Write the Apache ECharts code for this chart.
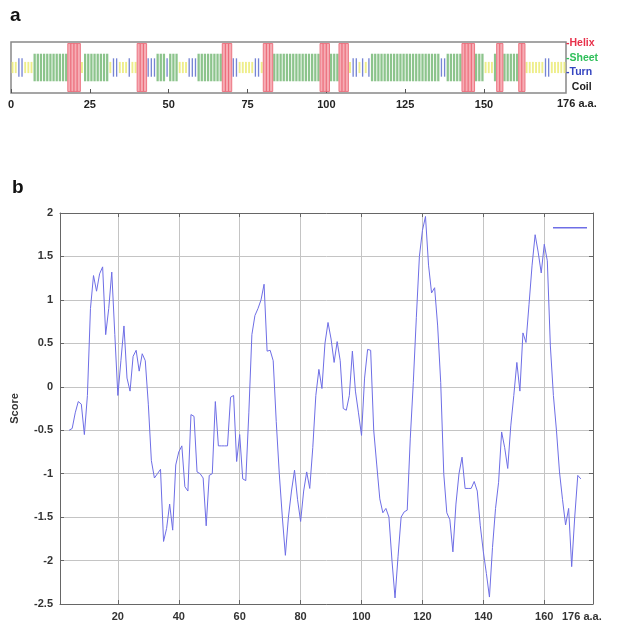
<!DOCTYPE html>
<html>
<head>
<meta charset="utf-8">
<script src="https://cdn.jsdelivr.net/npm/echarts@6/dist/echarts.min.js"></script>
<style>
  html, body { margin: 0; padding: 0; background: #fff; }
  #chart { width: 619px; height: 622px; }
</style>
</head>
<body>
<div id="chart"></div>
<script>
// secondary structure per residue, as runs of [type, length]
const ssRuns = [
  ['C', 2], ['T', 2], ['C', 3], ['E', 11], ['H', 4], ['C', 1], ['E', 8], ['C', 1],
  ['T', 2], ['C', 3], ['T', 1], ['C', 2], ['H', 3], ['T', 3], ['E', 3], ['T', 1],
  ['E', 3], ['C', 3], ['T', 3], ['E', 8], ['H', 3], ['T', 2], ['C', 5], ['T', 2],
  ['C', 1], ['H', 3], ['E', 15], ['H', 3], ['E', 3], ['H', 3], ['C', 1], ['T', 2],
  ['C', 1], ['T', 1], ['C', 1], ['T', 1], ['E', 22], ['T', 2], ['E', 5], ['H', 4],
  ['E', 3], ['C', 3], ['E', 1], ['H', 2], ['E', 5], ['H', 2], ['C', 6], ['T', 2],
  ['C', 5]
];
const ssTypes = ['H', 'E', 'T', 'C'];
const ssLegend = ['Helix', 'Sheet', 'Turn', 'Coil'];
const ssTicks = [0, 25, 50, 75, 100, 125, 150];

// score profile, first value at residue scoreStart
const scoreStart = 4;
const scoreValues = [
  -0.5, -0.48, -0.3, -0.17, -0.2, -0.55, -0.1, 0.9, 1.28, 1.1,
  1.3, 1.38, 0.6, 0.9, 1.32, 0.6, -0.1, 0.3, 0.7, 0.1,
  -0.05, 0.35, 0.42, 0.18, 0.38, 0.3, -0.2, -0.85, -1.05, -1.0,
  -0.95, -1.78, -1.63, -1.35, -1.65, -0.9, -0.75, -0.68, -1.15, -1.2,
  -0.32, -0.34, -0.98, -1.0, -1.05, -1.6, -1.02, -1.0, -0.17, -0.68,
  -0.68, -0.68, -0.68, -0.12, -0.1, -0.86, -0.55, -1.06, -1.08, -0.3,
  0.6, 0.82, 0.9, 1.0, 1.18, 0.41, 0.42, 0.3, -0.4, -1.0,
  -1.5, -1.94, -1.5, -1.2, -0.96, -1.3, -1.55, -1.2, -0.98, -1.17,
  -0.7, -0.1, 0.2, -0.02, 0.5, 0.74, 0.55, 0.28, 0.52, 0.3,
  -0.25, -0.27, -0.1, 0.41, -0.05, -0.3, -0.56, 0.1, 0.43, 0.42,
  -0.5, -0.9, -1.29, -1.45, -1.4, -1.5, -2.0, -2.43, -1.95, -1.5,
  -1.44, -1.42, -0.6, 0.05, 0.8, 1.5, 1.8, 1.96, 1.4, 1.08,
  1.14, 0.7, 0.05, -1.0, -1.45, -1.53, -1.9, -1.35, -1.0, -0.81,
  -1.17, -1.17, -1.17, -1.09, -1.2, -1.6, -1.9, -2.15, -2.42, -1.85,
  -1.4, -1.1, -0.52, -0.7, -0.94, -0.45, -0.1, 0.28, -0.05, 0.62,
  0.51, 0.95, 1.4, 1.75, 1.55, 1.31, 1.64, 1.45, 0.47, -0.1,
  -0.5, -0.98, -1.3, -1.59, -1.4, -2.07, -1.5, -1.02, -1.06
];
const scoreTicks = [20, 40, 60, 80, 100, 120, 140, 160];

// styles per structure type (H, E, T, C)
const ssHalf = [0.47, 0.27, 0.18, 0.11];
const ssWidth = [1, 0.72, 0.42, 0.6];
const ssFill = ['#f6adb5', '#8cc48c', '#7684d4', '#eeee8a'];
const ssText = ['#e8304a', '#2fbf5a', '#3545c0', '#222'];

const ssData = [];
let residue = 0;
ssRuns.forEach(([t, n]) => {
  for (let k = 0; k < n; k++) {
    residue += 1;
    ssData.push([residue, ssTypes.indexOf(t)]);
  }
});

const scoreData = scoreValues.map((v, k) => [scoreStart + k, v]);

const font = 'Liberation Sans, Arial, sans-serif';
const chart = echarts.init(document.getElementById('chart'));

const option = {
  animation: false,
  backgroundColor: '#fff',
  grid: [
    { left: 11, top: 42, width: 555, height: 51, show: true, borderColor: '#888', borderWidth: 1.5, backgroundColor: 'transparent' },
    { left: 60, top: 213, width: 533, height: 392 }
  ],
  xAxis: [
    {
      gridIndex: 0, type: 'value', min: 0, max: 176,
      axisLine: { show: false },
      axisTick: { show: true, inside: true, length: 4, customValues: ssTicks, lineStyle: { color: '#555' } },
      axisLabel: { customValues: ssTicks, margin: 6, color: '#222', fontWeight: 'bold', fontSize: 11, fontFamily: font },
      splitLine: { show: false }
    },
    {
      gridIndex: 1, type: 'value', min: 1, max: 176, position: 'bottom',
      axisLine: { show: true, onZero: false, lineStyle: { color: '#666' } },
      axisTick: { show: true, inside: true, length: 4, customValues: scoreTicks, lineStyle: { color: '#666' } },
      axisLabel: { customValues: scoreTicks, margin: 7, color: '#333', fontWeight: 'bold', fontSize: 11, fontFamily: font },
      splitLine: { show: true, lineStyle: { color: '#c4c4c4', width: 1 } }
    },
    {
      gridIndex: 1, type: 'value', min: 1, max: 176, position: 'top',
      axisLine: { show: true, onZero: false, lineStyle: { color: '#666' } },
      axisTick: { show: true, inside: true, length: 4, customValues: scoreTicks, lineStyle: { color: '#666' } },
      axisLabel: { show: false },
      splitLine: { show: false }
    }
  ],
  yAxis: [
    {
      gridIndex: 0, type: 'value', min: 0, max: 1, show: false
    },
    {
      gridIndex: 1, type: 'value', min: -2.5, max: 2, interval: 0.5, position: 'left',
      name: 'Score', nameLocation: 'middle', nameGap: 40,
      nameTextStyle: { color: '#333', fontWeight: 'bold', fontSize: 11, fontFamily: font },
      axisLine: { show: true, onZero: false, lineStyle: { color: '#666' } },
      axisTick: { show: true, inside: true, length: 4, lineStyle: { color: '#666' } },
      axisLabel: { margin: 7, color: '#333', fontWeight: 'bold', fontSize: 11, fontFamily: font },
      splitLine: { show: true, lineStyle: { color: '#c4c4c4', width: 1 } }
    },
    {
      gridIndex: 1, type: 'value', min: -2.5, max: 2, interval: 0.5, position: 'right',
      axisLine: { show: true, onZero: false, lineStyle: { color: '#666' } },
      axisTick: { show: true, inside: true, length: 4, lineStyle: { color: '#666' } },
      axisLabel: { show: false },
      splitLine: { show: false }
    }
  ],
  legend: {
    data: [{ name: 'score', icon: 'rect' }],
    left: 548, top: 222,
    itemWidth: 34, itemHeight: 1.5,
    formatter: () => '',
    textStyle: { fontSize: 1 }
  },
  series: [
    {
      type: 'custom',
      xAxisIndex: 0, yAxisIndex: 0,
      data: ssData,
      renderItem: (params, api) => {
        const pos = api.value(0);
        const t = api.value(1);
        const a = api.coord([pos - 1, 0.5 + ssHalf[t]]);
        const b = api.coord([pos, 0.5 - ssHalf[t]]);
        const w = b[0] - a[0];
        const bw = w * ssWidth[t];
        const helix = t === 0;
        return {
          type: 'rect',
          z2: helix ? 10 : 1,
          shape: {
            x: a[0] + (w - bw) / 2,
            y: a[1],
            width: bw,
            height: b[1] - a[1]
          },
          style: {
            fill: ssFill[t],
            stroke: helix ? '#ea5f6e' : null,
            lineWidth: helix ? 0.8 : 0
          }
        };
      }
    },
    {
      name: 'score',
      type: 'line',
      xAxisIndex: 1, yAxisIndex: 1,
      data: scoreData,
      showSymbol: false,
      lineStyle: { color: '#6e6ee6', width: 1 },
      itemStyle: { color: '#6e6ee6' }
    }
  ],
  graphic: [
    { type: 'text', left: 10, top: 6, style: { text: 'a', fill: '#111', font: 'bold 19px ' + font } },
    { type: 'text', left: 12, top: 178, style: { text: 'b', fill: '#111', font: 'bold 19px ' + font } },
    { type: 'text', left: 557, top: 98, style: { text: '176 a.a.', fill: '#222', font: 'bold 11px ' + font } },
    { type: 'text', left: 562, top: 611, style: { text: '176 a.a.', fill: '#333', font: 'bold 11px ' + font } }
  ].concat(ssLegend.map((name, k) => ({
    type: 'text',
    left: 566,
    top: 38 + k * 14.5,
    style: {
      text: (k < 3 ? '-' : '  ') + name,
      fill: ssText[k],
      font: 'bold 10.5px ' + font
    }
  })))
};

chart.setOption(option);
</script>
</body>
</html>
